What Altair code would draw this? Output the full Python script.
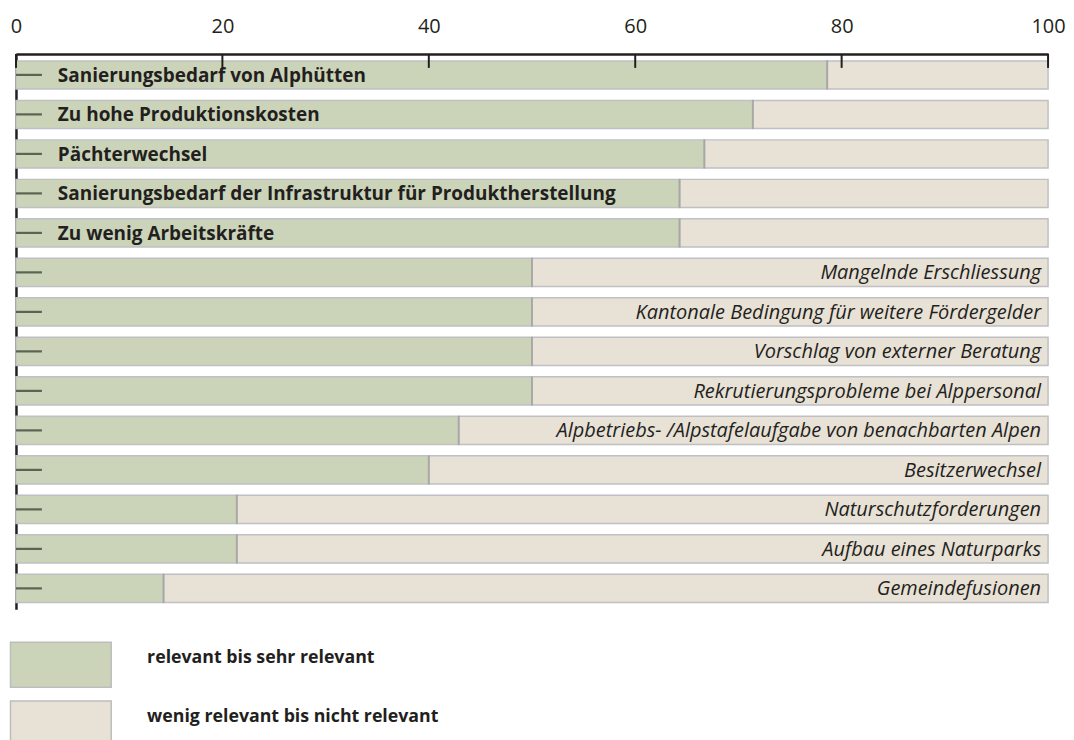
import altair as alt
import pandas as pd

categories = [
    "Sanierungsbedarf von Alphütten",
    "Zu hohe Produktionskosten",
    "Pächterwechsel",
    "Sanierungsbedarf der Infrastruktur für Produktherstellung",
    "Zu wenig Arbeitskräfte",
    "Mangelnde Erschliessung",
    "Kantonale Bedingung für weitere Fördergelder",
    "Vorschlag von externer Beratung",
    "Rekrutierungsprobleme bei Alppersonal",
    "Alpbetriebs- /Alpstafelaufgabe von benachbarten Alpen",
    "Besitzerwechsel",
    "Naturschutzforderungen",
    "Aufbau eines Naturparks",
    "Gemeindefusionen",
]
relevant = [78.6, 71.4, 66.7, 64.3, 64.3, 50.0, 50.0, 50.0, 50.0, 42.9, 40.0, 21.4, 21.4, 14.3]
not_relevant = [21.4, 28.6, 33.3, 35.7, 35.7, 50.0, 50.0, 50.0, 50.0, 57.1, 60.0, 78.6, 78.6, 85.7]
highlighted = [True, True, True, True, True, False, False, False, False, False, False, False, False, False]
x_ticks = [0, 20, 40, 60, 80, 100]
legend_labels = ["relevant bis sehr relevant", "wenig relevant bis nicht relevant"]

GREEN = "#cbd4b9"
BEIGE = "#e8e1d6"
INK = "#231f20"
FONT = "Open Sans"

rows = []
for c, r, n, h in zip(categories, relevant, not_relevant, highlighted):
    rows.append({"cat": c, "grp": legend_labels[0], "start": 0.0, "end": r, "hl": h})
    rows.append({"cat": c, "grp": legend_labels[1], "start": r, "end": r + n, "hl": h})
bars_df = pd.DataFrame(rows)
cat_df = pd.DataFrame({"cat": categories, "relevant": relevant, "hl": highlighted})
tick_df = pd.DataFrame({"t": x_ticks})
legend_df = pd.DataFrame({"label": legend_labels})

W, H = 1035, 557

y_enc = alt.Y("cat:N", sort=categories,
              scale=alt.Scale(paddingInner=0.29, paddingOuter=0.176),
              axis=alt.Axis(labels=False, ticks=False, title=None, domain=True,
                            domainColor=INK, domainWidth=2.5))
x_scale = alt.Scale(domain=[0, 100], nice=False)

bars = alt.Chart(bars_df).mark_bar(stroke="#bfc0c3", strokeWidth=1.5, cornerRadius=0).encode(
    x=alt.X("start:Q", scale=x_scale,
            axis=alt.Axis(orient="top", values=x_ticks, ticks=False, grid=False, title=None,
                          domainColor=INK, domainWidth=2.5, labelFontSize=20,
                          labelFont=FONT, labelColor=INK, labelPadding=17,
                          labelFlush=False)),
    x2="end:Q",
    y=y_enc,
    color=alt.Color("grp:N", scale=alt.Scale(domain=legend_labels, range=[GREEN, BEIGE]), legend=None),
)

divider = alt.Chart(cat_df).mark_tick(orient="vertical", color="#9c9c9c", thickness=2, size=29).encode(
    x=alt.X("relevant:Q", scale=x_scale),
    y=alt.Y("cat:N", sort=categories),
)

dashes = alt.Chart(cat_df).mark_rule(color="#5b6352", strokeWidth=2.2).encode(
    x=alt.value(0), x2=alt.value(26),
    y=alt.Y("cat:N", sort=categories),
)

top_ticks = alt.Chart(tick_df).mark_rule(color=INK, strokeWidth=2).encode(
    x=alt.X("t:Q", scale=x_scale), y=alt.value(0), y2=alt.value(14),
)

bold_labels = alt.Chart(cat_df).transform_filter("datum.hl").mark_text(
    align="left", baseline="middle", font=FONT, fontWeight="bold", fontSize=19, color=INK, dy=1
).encode(x=alt.value(42), y=alt.Y("cat:N", sort=categories), text="cat:N")

italic_labels = alt.Chart(cat_df).transform_filter("!datum.hl").mark_text(
    align="right", baseline="middle", font=FONT, fontStyle="italic", fontSize=20, color=INK, dy=1
).encode(x=alt.value(1028), y=alt.Y("cat:N", sort=categories), text="cat:N")

main = alt.layer(bars, divider, dashes, top_ticks, bold_labels, italic_labels).properties(
    width=W, height=H)

leg_y = alt.Y("label:N", sort=legend_labels,
              scale=alt.Scale(paddingInner=0.237, paddingOuter=0.119), axis=None)
leg_rect = alt.Chart(legend_df).mark_rect(stroke="#bdbdbd", strokeWidth=1.5).encode(
    x=alt.value(-5.5), x2=alt.value(95.5), y=leg_y,
    color=alt.Color("label:N", scale=alt.Scale(domain=legend_labels, range=[GREEN, BEIGE]), legend=None),
)
leg_text = alt.Chart(legend_df).mark_text(
    align="left", baseline="middle", font=FONT, fontWeight="bold", fontSize=17.8, color=INK, dy=-7
).encode(x=alt.value(131.5), y=leg_y, text="label:N")
legend = alt.layer(leg_rect, leg_text).properties(width=400, height=118)

chart = alt.vconcat(main, legend, spacing=26, bounds="flush").properties(
    padding={"left": 1, "top": 8, "right": 0, "bottom": 0}
).configure_view(stroke=None).configure_concat(spacing=26)

chart.save("out.html", embed_options={"renderer": "svg", "actions": False})
